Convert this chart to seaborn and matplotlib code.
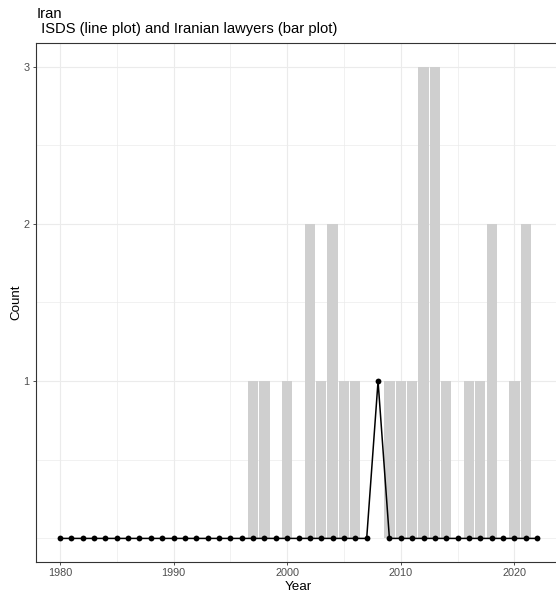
import matplotlib
matplotlib.use("Agg")
import matplotlib.pyplot as plt
import seaborn as sns
import numpy as np
import pandas as pd

# ---- data ----
lawyer_years = [1997, 1998, 2000, 2002, 2003, 2004, 2005, 2006, 2009, 2010,
                2011, 2012, 2013, 2014, 2016, 2017, 2018, 2020, 2021]
lawyer_counts = [1, 1, 1, 2, 1, 2, 1, 1, 1, 1,
                 1, 3, 3, 1, 1, 1, 2, 1, 2]
isds_years = list(range(1980, 2023))
isds_counts = [0] * 28 + [1] + [0] * 14   # 2008 -> 1
x_ticks = [1980, 1990, 2000, 2010, 2020]
y_ticks = [1, 2, 3]
title = "Iran\n ISDS (line plot) and Iranian lawyers (bar plot)"

bars = pd.DataFrame({"Year": lawyer_years, "Count": lawyer_counts})
line = pd.DataFrame({"Year": isds_years, "Count": isds_counts})

sns.set_theme(style="white")
plt.rcParams["font.family"] = ["Liberation Sans", "DejaVu Sans"]

W, H = 556, 594
fig = plt.figure(figsize=(W / 100, H / 100), dpi=100)
left, right, top, bottom = 36, 561, 43, 562
ax = fig.add_axes([left / W, 1 - bottom / H, (right - left) / W, (bottom - top) / H])

sns.barplot(data=bars, x="Year", y="Count", native_scale=True, width=0.9,
            color="#CFCFCF", saturation=1, ax=ax, zorder=2, linewidth=0)
sns.lineplot(data=line, x="Year", y="Count", color="black", linewidth=1.1,
             marker="o", markersize=4.2, markeredgewidth=0, ax=ax, zorder=3)

ax.set_xlim(1977.9, 2024.1)
ax.set_ylim(-0.15, 3.15)
ax.set_xticks(x_ticks)
ax.set_xticklabels([str(t) for t in x_ticks])
ax.set_yticks(y_ticks)
ax.set_yticklabels([str(t) for t in y_ticks])
ax.set_xticks([1985, 1995, 2005, 2015], minor=True)
ax.set_yticks([0, 0.5, 1.5, 2.5], minor=True)

ax.grid(True, which="major", color="#EBEBEB", linewidth=0.8, zorder=0)
ax.grid(True, which="minor", color="#EBEBEB", linewidth=0.5, zorder=0)
ax.set_axisbelow(True)

ax.tick_params(axis="both", which="major", length=2.5, width=0.6, color="#333333",
               labelsize=7.8, labelcolor="#4D4D4D", pad=2, bottom=True, left=True)
ax.tick_params(axis="both", which="minor", length=0)
for s in ax.spines.values():
    s.set_color("#333333")
    s.set_linewidth(0.8)
ax.spines["right"].set_visible(False)

ax.set_xlabel("Year", fontsize=9.6, color="black", labelpad=2)
ax.set_ylabel("Count", fontsize=9.6, color="black", labelpad=1)

fig.text(left / W + 0.001, 1 - 7 / H, title, ha="left", va="top",
         fontsize=10.6, color="black", linespacing=1.05)

fig.savefig("out.png", dpi=100)
